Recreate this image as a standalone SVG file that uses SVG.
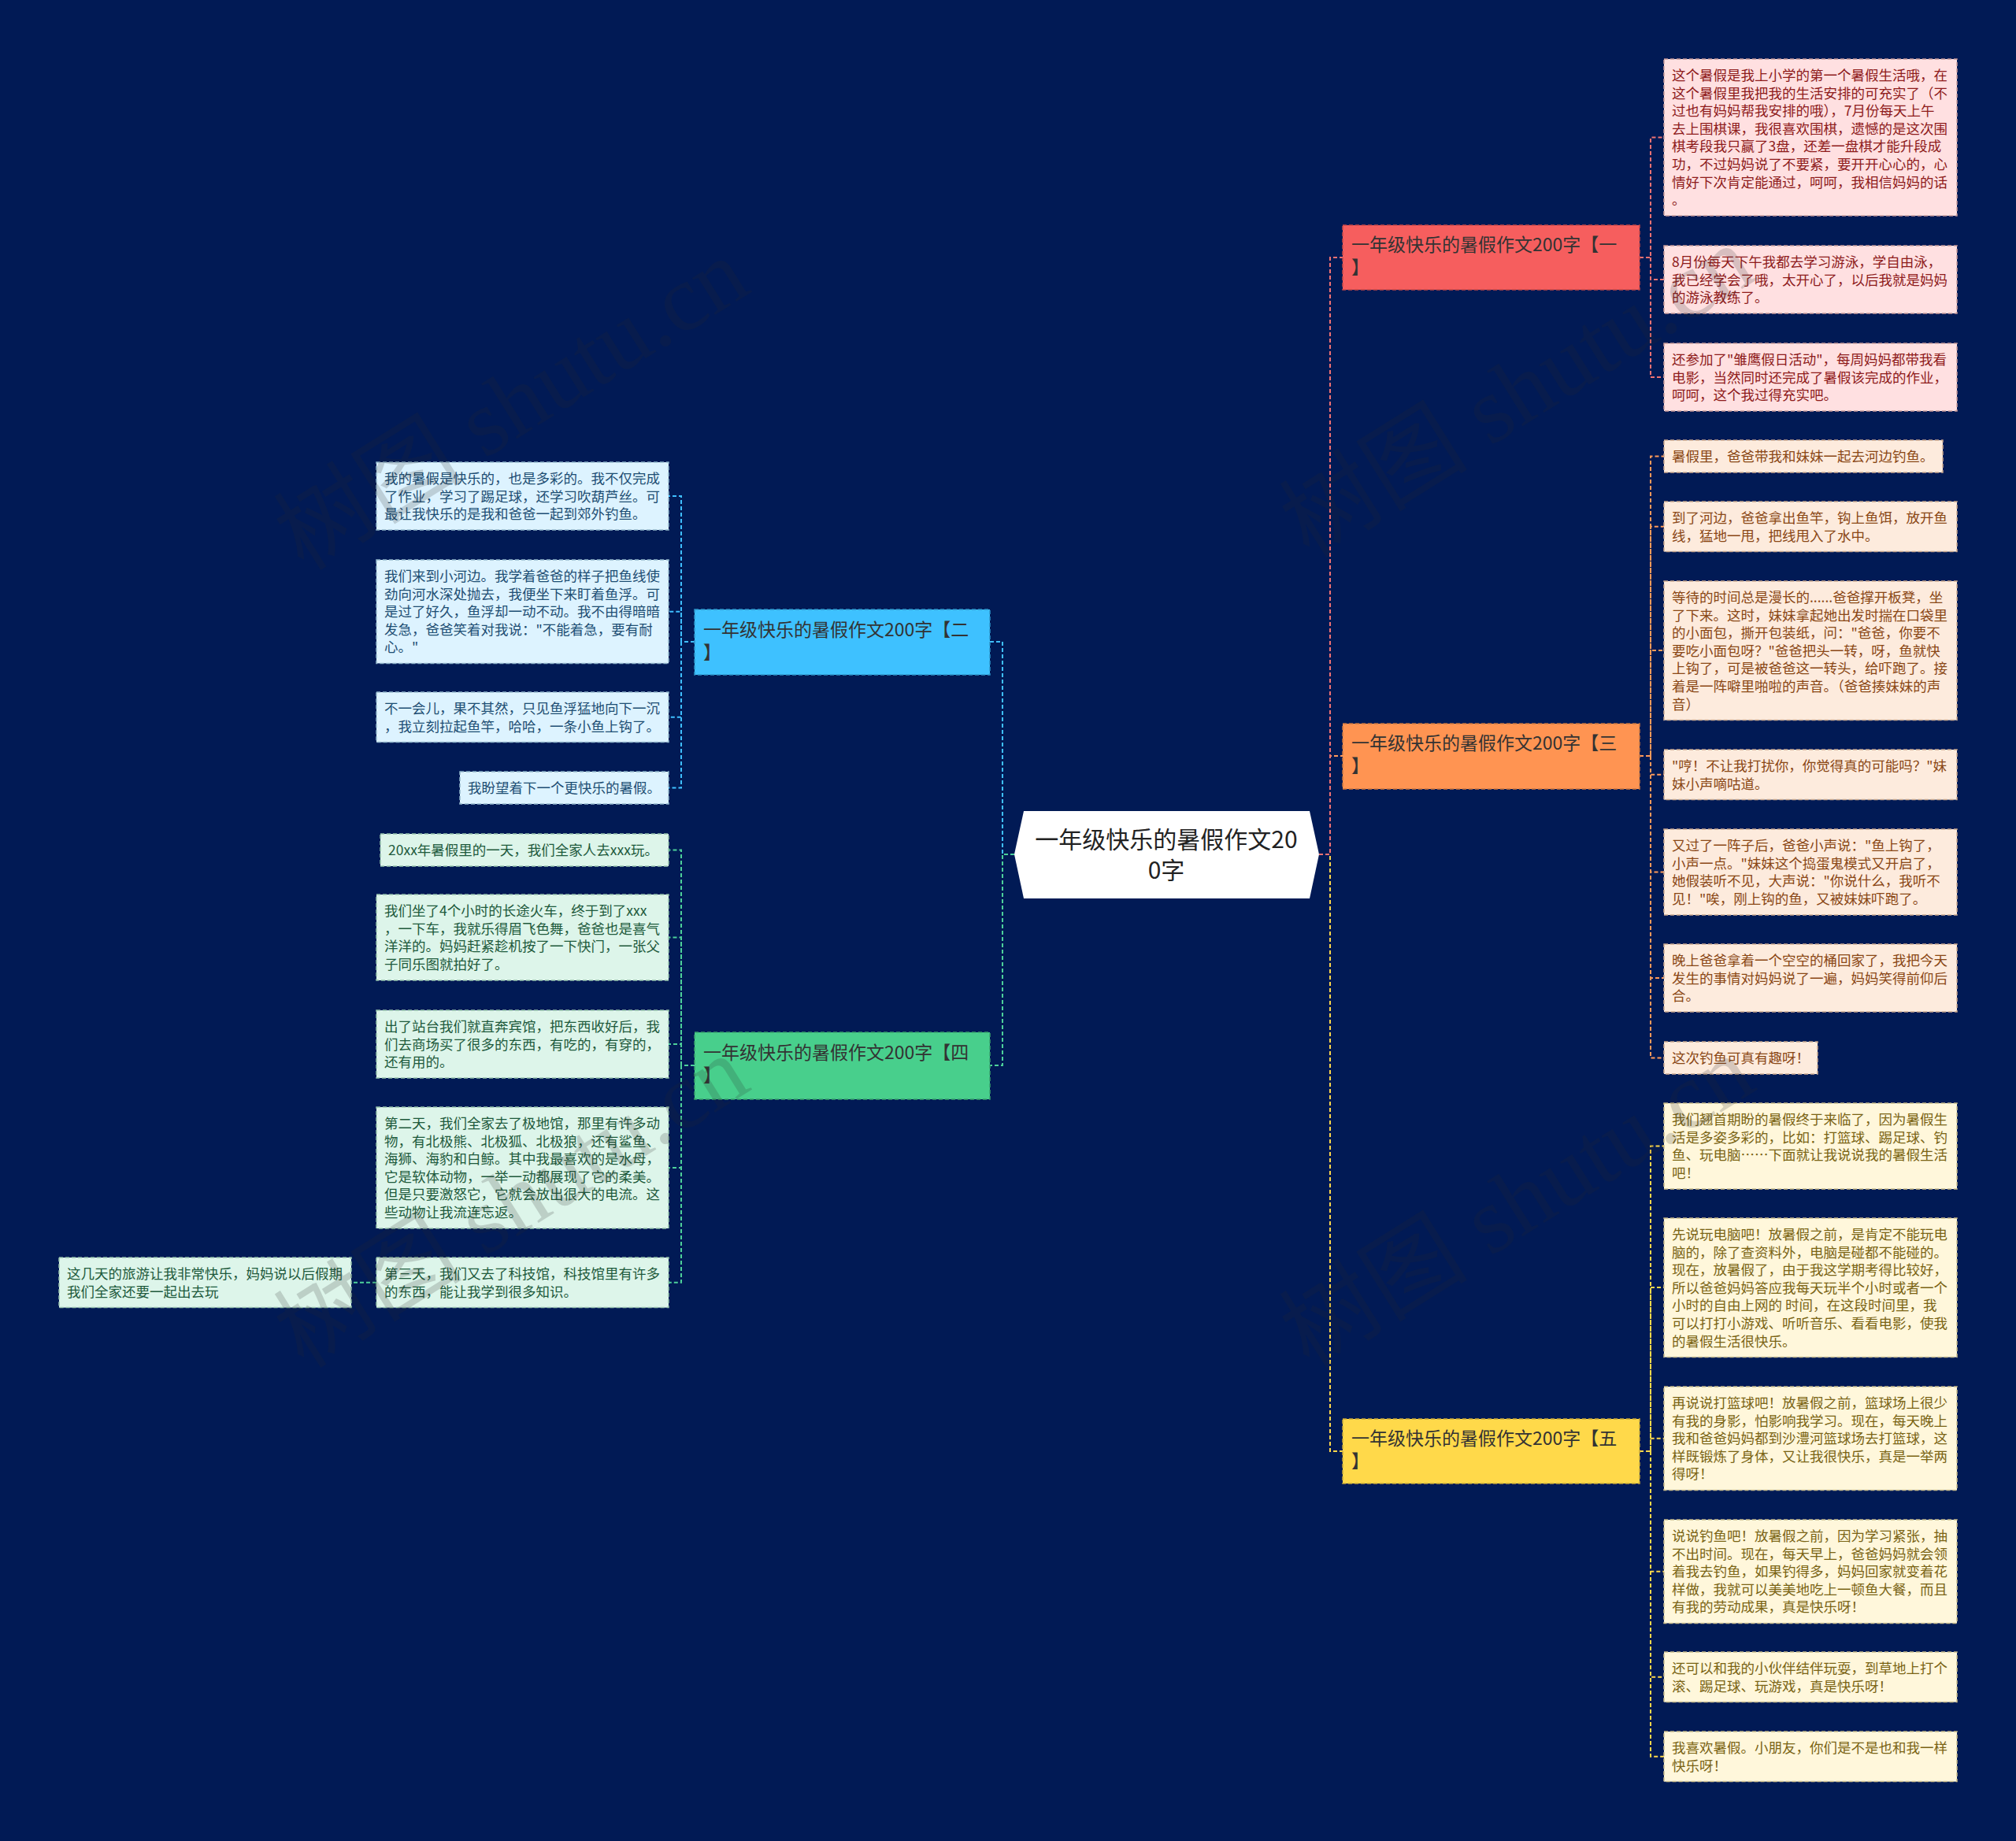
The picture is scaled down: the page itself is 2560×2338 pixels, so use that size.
<svg xmlns="http://www.w3.org/2000/svg" width="2560" height="2338" viewBox="0 0 2560 2338">
<style>
text{font-family:"Noto Sans CJK SC","Noto Sans",sans-serif;}
.leaf{font-size:17.5px;}
.br{font-size:23px;fill:#333333;}
.ctr{font-size:30px;fill:#222222;}
.con{fill:none;stroke-width:2;stroke-dasharray:5 3;}
.box{stroke-width:1.5;stroke-dasharray:5 3;}
.pk{fill:#FFE0E1;stroke:#C79A9A;}
.pkt{fill:#8E1B1B;}
.pe{fill:#FDEBDD;stroke:#C9A88E;}
.pet{fill:#8A4715;}
.cr{fill:#FFF7DB;stroke:#C8BB8A;}
.crt{fill:#7A6414;}
.lb{fill:#DDF3FF;stroke:#94B8CC;}
.lbt{fill:#1D4E73;}
.mt{fill:#DDF5EA;stroke:#96C2AC;}
.mtt{fill:#1E5A3C;}
.wm{font-family:"Liberation Serif","Noto Sans CJK SC",serif;font-size:120px;fill:#2a2a2a;opacity:0.18;}
</style>
<rect x="0" y="0" width="2560" height="2338" fill="#011A55"/>

<g id="connectors">
  <path class="con" stroke="#FF9A5A" d="M1675 1085 H1689 V960 H1705"/>
  <path class="con" stroke="#FFD84A" d="M1675 1085 H1689 V1843 H1705"/>
  <path class="con" stroke="#F07272" d="M1675 1085 H1689 V327 H1705"/>
  <path class="con" stroke="#3FBFFF" d="M1288 1085 H1273 V815 H1257"/>
  <path class="con" stroke="#4DD09A" d="M1288 1085 H1273 V1353 H1257"/>

  <path class="con" stroke="#F07272" d="M2082 327 H2096 V174.5 H2113 M2096 327 V355 H2113 M2096 327 V479 H2113"/>
  <path class="con" stroke="#FF9A5A" d="M2082 960 H2096 V579.5 H2113 M2096 960 V668.8 H2113 M2096 960 V826 H2113 M2096 960 V983.8 H2113 M2096 960 V1107.5 H2113 M2096 960 V1242 H2113 M2096 960 V1343.5 H2113"/>
  <path class="con" stroke="#FFD84A" d="M2082 1843 H2096 V1455.5 H2113 M2096 1843 V1635 H2113 M2096 1843 V1826.7 H2113 M2096 1843 V1995.7 H2113 M2096 1843 V2129.8 H2113 M2096 1843 V2230.8 H2113"/>
  <path class="con" stroke="#3FBFFF" d="M882 815 H865 V630 H849 M865 815 V776.7 H849 M865 815 V910.8 H849 M865 815 V1000.5 H849"/>
  <path class="con" stroke="#4DD09A" d="M882 1353 H865 V1079.5 H849 M865 1353 V1190.5 H849 M865 1353 V1326 H849 M865 1353 V1483 H849 M865 1353 V1628.8 H849"/>
  <path class="con" stroke="#4DD09A" d="M478 1628.8 H446"/>
</g>

<g id="center">
  <polygon points="1300,1030 1663,1030 1675,1085 1663,1141 1300,1141 1288,1085" fill="#FFFFFF"/>
  <text class="ctr" text-anchor="middle"><tspan x="1481" y="1077">一年级快乐的暑假作文20</tspan><tspan x="1481" y="1116">0字</tspan></text>
</g>

<g id="branch1">
  <rect class="box" x="1705" y="286" width="377" height="82" fill="#F65E5E" stroke="#C84848"/>
  <text class="br"><tspan x="1716" y="319">一年级快乐的暑假作文200字【一</tspan><tspan x="1716" y="348">】</tspan></text>
</g>
<g id="branch3">
  <rect class="box" x="1705" y="919" width="377" height="83" fill="#FF9452" stroke="#C87440"/>
  <text class="br"><tspan x="1716" y="952">一年级快乐的暑假作文200字【三</tspan><tspan x="1716" y="981">】</tspan></text>
</g>
<g id="branch5">
  <rect class="box" x="1705" y="1802" width="377" height="82" fill="#FFD94A" stroke="#C8A838"/>
  <text class="br"><tspan x="1716" y="1835">一年级快乐的暑假作文200字【五</tspan><tspan x="1716" y="1864">】</tspan></text>
</g>
<g id="branch2">
  <rect class="box" x="882" y="774" width="375" height="83" fill="#3EC1FF" stroke="#2E94C8"/>
  <text class="br"><tspan x="893" y="808">一年级快乐的暑假作文200字【二</tspan><tspan x="893" y="837">】</tspan></text>
</g>
<g id="branch4">
  <rect class="box" x="882" y="1311" width="375" height="85" fill="#48CF8C" stroke="#38A06C"/>
  <text class="br"><tspan x="893" y="1345">一年级快乐的暑假作文200字【四</tspan><tspan x="893" y="1374">】</tspan></text>
</g>

<g id="leaf1a">
  <rect class="box pk" x="2113" y="75" width="372" height="199"/>
  <text class="leaf pkt"><tspan x="2123" y="102">这个暑假是我上小学的第一个暑假生活哦，在</tspan><tspan x="2123" y="124.6">这个暑假里我把我的生活安排的可充实了（不</tspan><tspan x="2123" y="147.2">过也有妈妈帮我安排的哦），7月份每天上午</tspan><tspan x="2123" y="169.8">去上围棋课，我很喜欢围棋，遗憾的是这次围</tspan><tspan x="2123" y="192.4">棋考段我只赢了3盘，还差一盘棋才能升段成</tspan><tspan x="2123" y="215">功，不过妈妈说了不要紧，要开开心心的，心</tspan><tspan x="2123" y="237.6">情好下次肯定能通过，呵呵，我相信妈妈的话</tspan><tspan x="2123" y="260.2">。</tspan></text>
</g>
<g id="leaf1b">
  <rect class="box pk" x="2113" y="312" width="372" height="86"/>
  <text class="leaf pkt"><tspan x="2123" y="339">8月份每天下午我都去学习游泳，学自由泳，</tspan><tspan x="2123" y="361.6">我已经学会了哦，太开心了，以后我就是妈妈</tspan><tspan x="2123" y="384.2">的游泳教练了。</tspan></text>
</g>
<g id="leaf1c">
  <rect class="box pk" x="2113" y="436" width="372" height="86"/>
  <text class="leaf pkt"><tspan x="2123" y="463">还参加了"雏鹰假日活动"，每周妈妈都带我看</tspan><tspan x="2123" y="485.6">电影，当然同时还完成了暑假该完成的作业，</tspan><tspan x="2123" y="508.2">呵呵，这个我过得充实吧。</tspan></text>
</g>

<g id="leaf3a">
  <rect class="box pe" x="2113" y="559" width="354" height="41"/>
  <text class="leaf pet"><tspan x="2123" y="586">暑假里，爸爸带我和妹妹一起去河边钓鱼。</tspan></text>
</g>
<g id="leaf3b">
  <rect class="box pe" x="2113" y="637" width="372" height="63.6"/>
  <text class="leaf pet"><tspan x="2123" y="664">到了河边，爸爸拿出鱼竿，钩上鱼饵，放开鱼</tspan><tspan x="2123" y="686.6">线，猛地一甩，把线甩入了水中。</tspan></text>
</g>
<g id="leaf3c">
  <rect class="box pe" x="2113" y="738" width="372" height="176.6"/>
  <text class="leaf pet"><tspan x="2123" y="765">等待的时间总是漫长的......爸爸撑开板凳，坐</tspan><tspan x="2123" y="787.6">了下来。这时，妹妹拿起她出发时揣在口袋里</tspan><tspan x="2123" y="810.2">的小面包，撕开包装纸，问："爸爸，你要不</tspan><tspan x="2123" y="832.8">要吃小面包呀？"爸爸把头一转，呀，鱼就快</tspan><tspan x="2123" y="855.4">上钩了，可是被爸爸这一转头，给吓跑了。接</tspan><tspan x="2123" y="878">着是一阵噼里啪啦的声音。（爸爸揍妹妹的声</tspan><tspan x="2123" y="900.6">音）</tspan></text>
</g>
<g id="leaf3d">
  <rect class="box pe" x="2113" y="952" width="372" height="63.6"/>
  <text class="leaf pet"><tspan x="2123" y="979">"哼！不让我打扰你，你觉得真的可能吗？"妹</tspan><tspan x="2123" y="1001.6">妹小声嘀咕道。</tspan></text>
</g>
<g id="leaf3e">
  <rect class="box pe" x="2113" y="1053" width="372" height="109"/>
  <text class="leaf pet"><tspan x="2123" y="1080">又过了一阵子后，爸爸小声说："鱼上钩了，</tspan><tspan x="2123" y="1102.6">小声一点。"妹妹这个捣蛋鬼模式又开启了，</tspan><tspan x="2123" y="1125.2">她假装听不见，大声说："你说什么，我听不</tspan><tspan x="2123" y="1147.8">见！"唉，刚上钩的鱼，又被妹妹吓跑了。</tspan></text>
</g>
<g id="leaf3f">
  <rect class="box pe" x="2113" y="1199" width="372" height="86"/>
  <text class="leaf pet"><tspan x="2123" y="1226">晚上爸爸拿着一个空空的桶回家了，我把今天</tspan><tspan x="2123" y="1248.6">发生的事情对妈妈说了一遍，妈妈笑得前仰后</tspan><tspan x="2123" y="1271.2">合。</tspan></text>
</g>
<g id="leaf3g">
  <rect class="box pe" x="2113" y="1323" width="195" height="41"/>
  <text class="leaf pet"><tspan x="2123" y="1350">这次钓鱼可真有趣呀！</tspan></text>
</g>

<g id="leaf5a">
  <rect class="box cr" x="2113" y="1401" width="372" height="109"/>
  <text class="leaf crt"><tspan x="2123" y="1428">我们翘首期盼的暑假终于来临了，因为暑假生</tspan><tspan x="2123" y="1450.6">活是多姿多彩的，比如：打篮球、踢足球、钓</tspan><tspan x="2123" y="1473.2">鱼、玩电脑……下面就让我说说我的暑假生活</tspan><tspan x="2123" y="1495.8">吧！</tspan></text>
</g>
<g id="leaf5b">
  <rect class="box cr" x="2113" y="1547" width="372" height="176.6"/>
  <text class="leaf crt"><tspan x="2123" y="1574">先说玩电脑吧！放暑假之前，是肯定不能玩电</tspan><tspan x="2123" y="1596.6">脑的，除了查资料外，电脑是碰都不能碰的。</tspan><tspan x="2123" y="1619.2">现在，放暑假了，由于我这学期考得比较好，</tspan><tspan x="2123" y="1641.8">所以爸爸妈妈答应我每天玩半个小时或者一个</tspan><tspan x="2123" y="1664.4">小时的自由上网的 时间，在这段时间里，我</tspan><tspan x="2123" y="1687">可以打打小游戏、听听音乐、看看电影，使我</tspan><tspan x="2123" y="1709.6">的暑假生活很快乐。</tspan></text>
</g>
<g id="leaf5c">
  <rect class="box cr" x="2113" y="1761" width="372" height="131.4"/>
  <text class="leaf crt"><tspan x="2123" y="1788">再说说打篮球吧！放暑假之前，篮球场上很少</tspan><tspan x="2123" y="1810.6">有我的身影，怕影响我学习。现在，每天晚上</tspan><tspan x="2123" y="1833.2">我和爸爸妈妈都到沙澧河篮球场去打篮球，这</tspan><tspan x="2123" y="1855.8">样既锻炼了身体，又让我很快乐，真是一举两</tspan><tspan x="2123" y="1878.4">得呀！</tspan></text>
</g>
<g id="leaf5d">
  <rect class="box cr" x="2113" y="1930" width="372" height="131.4"/>
  <text class="leaf crt"><tspan x="2123" y="1957">说说钓鱼吧！放暑假之前，因为学习紧张，抽</tspan><tspan x="2123" y="1979.6">不出时间。现在，每天早上，爸爸妈妈就会领</tspan><tspan x="2123" y="2002.2">着我去钓鱼，如果钓得多，妈妈回家就变着花</tspan><tspan x="2123" y="2024.8">样做，我就可以美美地吃上一顿鱼大餐，而且</tspan><tspan x="2123" y="2047.4">有我的劳动成果，真是快乐呀！</tspan></text>
</g>
<g id="leaf5e">
  <rect class="box cr" x="2113" y="2098" width="372" height="63.6"/>
  <text class="leaf crt"><tspan x="2123" y="2125">还可以和我的小伙伴结伴玩耍，到草地上打个</tspan><tspan x="2123" y="2147.6">滚、踢足球、玩游戏，真是快乐呀！</tspan></text>
</g>
<g id="leaf5f">
  <rect class="box cr" x="2113" y="2199" width="372" height="63.6"/>
  <text class="leaf crt"><tspan x="2123" y="2226">我喜欢暑假。小朋友，你们是不是也和我一样</tspan><tspan x="2123" y="2248.6">快乐呀！</tspan></text>
</g>

<g id="leaf2a">
  <rect class="box lb" x="478" y="587" width="371" height="86"/>
  <text class="leaf lbt"><tspan x="488" y="614">我的暑假是快乐的，也是多彩的。我不仅完成</tspan><tspan x="488" y="636.6">了作业，学习了踢足球，还学习吹葫芦丝。可</tspan><tspan x="488" y="659.2">最让我快乐的是我和爸爸一起到郊外钓鱼。</tspan></text>
</g>
<g id="leaf2b">
  <rect class="box lb" x="478" y="711" width="371" height="131.4"/>
  <text class="leaf lbt"><tspan x="488" y="738">我们来到小河边。我学着爸爸的样子把鱼线使</tspan><tspan x="488" y="760.6">劲向河水深处抛去，我便坐下来盯着鱼浮。可</tspan><tspan x="488" y="783.2">是过了好久，鱼浮却一动不动。我不由得暗暗</tspan><tspan x="488" y="805.8">发急，爸爸笑着对我说："不能着急，要有耐</tspan><tspan x="488" y="828.4">心。"</tspan></text>
</g>
<g id="leaf2c">
  <rect class="box lb" x="478" y="879" width="371" height="63.6"/>
  <text class="leaf lbt"><tspan x="488" y="906">不一会儿，果不其然，只见鱼浮猛地向下一沉</tspan><tspan x="488" y="928.6">，我立刻拉起鱼竿，哈哈，一条小鱼上钩了。</tspan></text>
</g>
<g id="leaf2d">
  <rect class="box lb" x="584" y="980" width="265" height="41"/>
  <text class="leaf lbt"><tspan x="594" y="1007">我盼望着下一个更快乐的暑假。</tspan></text>
</g>

<g id="leaf4a">
  <rect class="box mt" x="483" y="1059" width="366" height="41"/>
  <text class="leaf mtt"><tspan x="493" y="1086">20xx年暑假里的一天，我们全家人去xxx玩。</tspan></text>
</g>
<g id="leaf4b">
  <rect class="box mt" x="478" y="1136" width="371" height="109"/>
  <text class="leaf mtt"><tspan x="488" y="1163">我们坐了4个小时的长途火车，终于到了xxx</tspan><tspan x="488" y="1185.6">，一下车，我就乐得眉飞色舞，爸爸也是喜气</tspan><tspan x="488" y="1208.2">洋洋的。妈妈赶紧趁机按了一下快门，一张父</tspan><tspan x="488" y="1230.8">子同乐图就拍好了。</tspan></text>
</g>
<g id="leaf4c">
  <rect class="box mt" x="478" y="1283" width="371" height="86"/>
  <text class="leaf mtt"><tspan x="488" y="1310">出了站台我们就直奔宾馆，把东西收好后，我</tspan><tspan x="488" y="1332.6">们去商场买了很多的东西，有吃的，有穿的，</tspan><tspan x="488" y="1355.2">还有用的。</tspan></text>
</g>
<g id="leaf4d">
  <rect class="box mt" x="478" y="1406" width="371" height="154"/>
  <text class="leaf mtt"><tspan x="488" y="1433">第二天，我们全家去了极地馆，那里有许多动</tspan><tspan x="488" y="1455.6">物，有北极熊、北极狐、北极狼，还有鲨鱼、</tspan><tspan x="488" y="1478.2">海狮、海豹和白鲸。其中我最喜欢的是水母，</tspan><tspan x="488" y="1500.8">它是软体动物，一举一动都展现了它的柔美。</tspan><tspan x="488" y="1523.4">但是只要激怒它，它就会放出很大的电流。这</tspan><tspan x="488" y="1546">些动物让我流连忘返。</tspan></text>
</g>
<g id="leaf4e">
  <rect class="box mt" x="478" y="1597" width="371" height="63.6"/>
  <text class="leaf mtt"><tspan x="488" y="1624">第三天，我们又去了科技馆，科技馆里有许多</tspan><tspan x="488" y="1646.6">的东西，能让我学到很多知识。</tspan></text>
</g>
<g id="leaf4f">
  <rect class="box mt" x="75" y="1597" width="371" height="63.6"/>
  <text class="leaf mtt"><tspan x="85" y="1624">这几天的旅游让我非常快乐，妈妈说以后假期</tspan><tspan x="85" y="1646.6">我们全家还要一起出去玩</tspan></text>
</g>

<g id="watermarks">
  <text class="wm" text-anchor="middle" transform="rotate(-32 650 514)" x="650" y="554">树图 shutu.cn</text>
  <text class="wm" text-anchor="middle" transform="rotate(-32 1927 498)" x="1927" y="538">树图 shutu.cn</text>
  <text class="wm" text-anchor="middle" transform="rotate(-32 650 1527)" x="650" y="1567">树图 shutu.cn</text>
  <text class="wm" text-anchor="middle" transform="rotate(-32 1927 1527)" x="1927" y="1567">树图 shutu.cn</text>
</g>
</svg>
